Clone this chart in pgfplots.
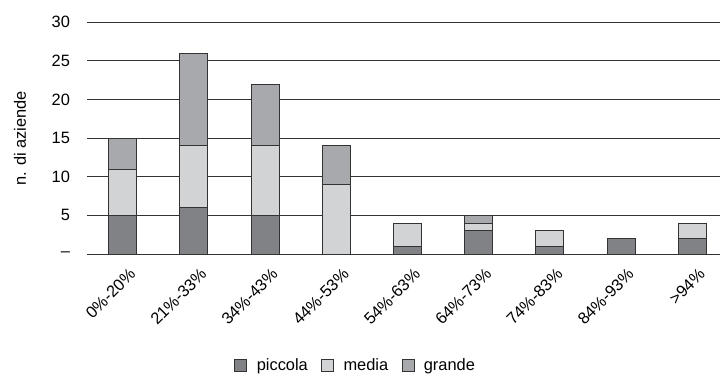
\documentclass[border=0pt]{standalone}
\usepackage{pgfplots}
\pgfplotsset{compat=1.18}
\usepackage{fontspec}
\setmainfont{Liberation Sans}
\definecolor{piccola}{HTML}{808285}
\definecolor{media}{HTML}{D1D3D4}
\definecolor{grande}{HTML}{A7A9AC}
\definecolor{linea}{HTML}{333333}
\begin{document}
\fontsize{12.3pt}{14pt}\selectfont
\begin{tikzpicture}
\useasboundingbox (0,0) rectangle (540pt,281.25pt);
\begin{axis}[
  at={(65.25pt,90.75pt)}, anchor=south west,
  scale only axis, width=474.75pt, height=173.8pt,
  ybar stacked, bar width=21pt,
  xmin=-0.5, xmax=8.39, ymin=0, ymax=30,
  xtick={0,...,8},
  xticklabels={0\%-20\%,21\%-33\%,34\%-43\%,44\%-53\%,54\%-63\%,64\%-73\%,74\%-83\%,84\%-93\%,>94\%},
  ytick={0,5,...,30},
  yticklabels={\textendash,5,10,15,20,25,30},
  major tick length=0pt,
  axis line style={draw=none},
  ymajorgrids, grid style={linea, line width=0.75pt},
  yticklabel style={xshift=-8.5pt},
  xticklabel style={rotate=45, anchor=north east, inner sep=1pt, xshift=-3pt, yshift=-9pt},
  ylabel={n. di aziende},
  every axis y label/.style={at={(axis description cs:-0.1058,0.5)}, rotate=90, anchor=center},
  every axis plot/.append style={draw=linea, line width=0.75pt},
  legend columns=-1,
  legend style={draw=none, at={(0.425,-0.483)}, anchor=center, font=\fontsize{12.3pt}{14pt}\selectfont,
    /tikz/every odd column/.append style={column sep=5pt},
    /tikz/every even column/.append style={column sep=8pt}},
  legend image code/.code={\draw[#1, line width=0.75pt] (0pt,-4pt) rectangle (9pt,5pt);},
]
\addplot[fill=piccola] coordinates {(0,5) (1,6) (2,5) (3,0) (4,1) (5,3) (6,1) (7,2) (8,2)};
\addplot[fill=media] coordinates {(0,6) (1,8) (2,9) (3,9) (4,3) (5,1) (6,2) (7,0) (8,2)};
\addplot[fill=grande] coordinates {(0,4) (1,12) (2,8) (3,5) (4,0) (5,1) (6,0) (7,0) (8,0)};
\legend{piccola,media,grande}
\end{axis}
\end{tikzpicture}
\end{document}
